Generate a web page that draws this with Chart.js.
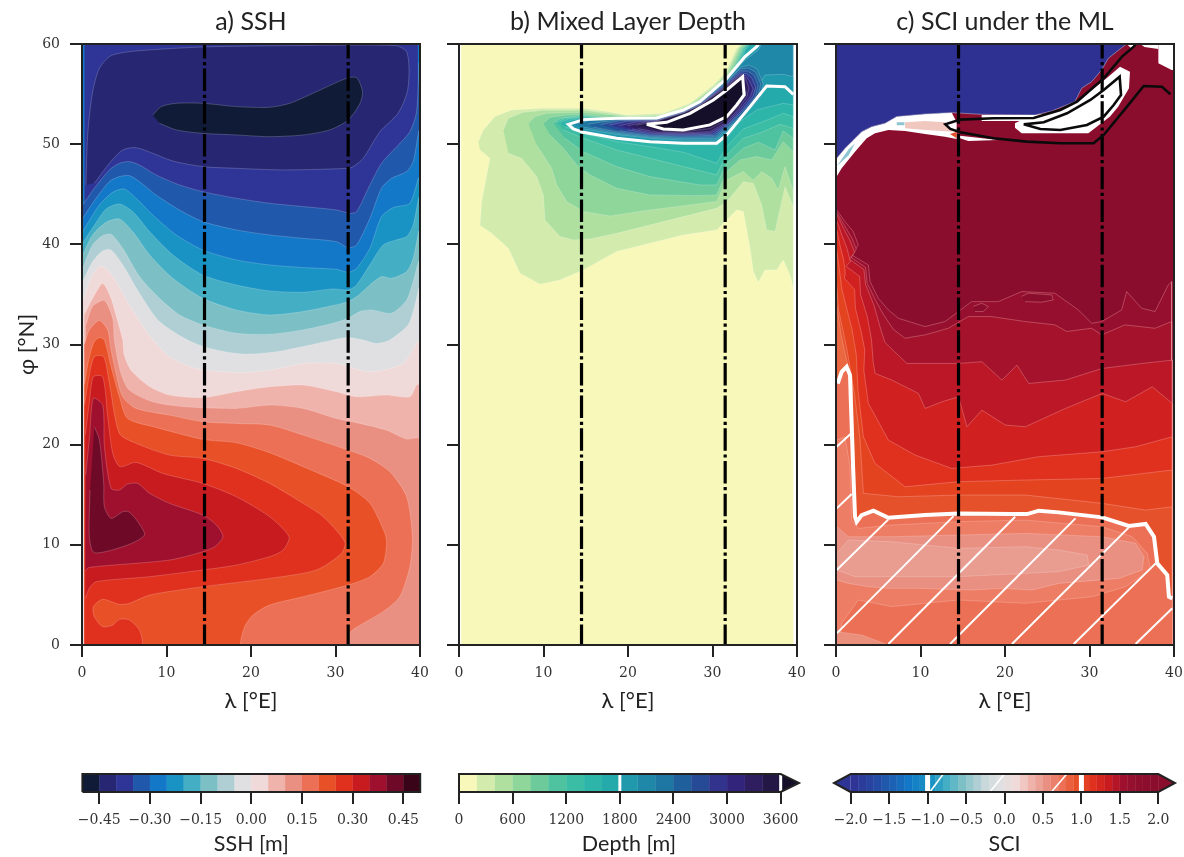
<!DOCTYPE html>
<html>
<head>
<meta charset="utf-8">
<title>SSH, MLD and SCI</title>
<script src="https://cdn.jsdelivr.net/npm/chart.js@4"></script>
<style>
  html, body { margin: 0; padding: 0; background: #fff; overflow: hidden; }
  canvas { position: absolute; }
</style>
</head>
<body>
<canvas id="mapSsh" width="430" height="720" style="left:0px;top:0px"></canvas>
<canvas id="mapMld" width="430" height="720" style="left:377px;top:0px"></canvas>
<canvas id="mapSci" width="430" height="720" style="left:754px;top:0px"></canvas>
<canvas id="barSsh" width="400" height="97" style="left:47px;top:760px"></canvas>
<canvas id="barMld" width="385" height="97" style="left:424px;top:760px"></canvas>
<canvas id="barSci" width="385" height="97" style="left:799px;top:760px"></canvas>
<script>
// ---- axes
const lonTicks = [0, 10, 20, 30, 40];
const latTicks = [0, 10, 20, 30, 40, 50, 60];
const sectionLons = [14.5, 31.5];

// ---- colour bars
const sshLevels = [-0.5, -0.45, -0.4, -0.35, -0.3, -0.25, -0.2, -0.15, -0.1, -0.05, 0, 0.05, 0.1, 0.15, 0.2, 0.25, 0.3, 0.35, 0.4, 0.45, 0.5];
const sshTicks = [-0.45, -0.3, -0.15, 0, 0.15, 0.3, 0.45];
const sshColors = ['#101b38', '#262672', '#2e3596', '#2058ab', '#1478c8', '#1893c3', '#44aec4', '#7cc0c6', '#b0cfd4', '#e0e0e2',
  '#f0dad9', '#efb3ac', '#ea9082', '#ec7055', '#e85028', '#e0301e', '#c81b20', '#9f102e', '#6e0a28', '#3a0418'];

const mldLevels = [0, 200, 400, 600, 800, 1000, 1200, 1400, 1600, 1800, 2000, 2200, 2400, 2600, 2800, 3000, 3200, 3400, 3600];
const mldTicks = [0, 600, 1200, 1800, 2400, 3000, 3600];
const mldColors = ['#f8f8bb', '#d3ecae', '#afe0a0', '#8fd69b', '#6dcb9b', '#4fc29f', '#3abda4', '#2cb5a8', '#24aaaa', '#2199ac',
  '#1f88a8', '#1e77a2', '#1f5f9c', '#274a97', '#31338c', '#33247b', '#2e1e5f', '#231745', '#160f2a'];

const sciLevels = [-2, -1.9, -1.8, -1.7, -1.6, -1.5, -1.4, -1.3, -1.2, -1.1, -1, -0.9, -0.8, -0.7, -0.6, -0.5, -0.4, -0.3, -0.2, -0.1, 0,
  0.1, 0.2, 0.3, 0.4, 0.5, 0.6, 0.7, 0.8, 0.9, 1, 1.1, 1.2, 1.3, 1.4, 1.5, 1.6, 1.7, 1.8, 1.9, 2];
const sciTicks = [-2, -1.5, -1, -0.5, 0, 0.5, 1, 1.5, 2];
const sciColors = ['#2e3596', '#2b3c9a', '#2843a0', '#244ba5', '#2058ab', '#1c62b4', '#186cbd', '#1478c8', '#1582c6', '#178bc4',
  '#1893c3', '#2ea0c4', '#44aec4', '#60b7c5', '#7cc0c6', '#96c8cd', '#b0cfd4', '#c8d8db', '#d6dddf', '#e0e0e2',
  '#e8dddd', '#f0dad9', '#f0c7c3', '#efb3ac', '#eca297', '#ea9082', '#eb806c', '#ec7055', '#ea603e', '#e85028',
  '#e44023', '#e0301e', '#d4261f', '#c81b20', '#b41628', '#9f102e', '#95102e', '#8f0e2e', '#8c0d2e', '#8b0d2e'];

// ---- a) SSH, contours as [lon, lat]
const sshOuter = [[0.3, 0], [39.75, 0], [39.75, 59.9], [0.3, 59.9]];
const sshRing = [[0.47, 45.93], [0.67, 50.92], [1.26, 55.24], [2.06, 57.57], [3.44, 58.84], [6.4, 59.3], [14.3, 59.7], [24.2, 59.83], [37.2, 59.83], [38.4, 59.23], [38.7, 57.57], [38.5, 55.24], [37.4, 53.08], [35.26, 51.25], [33.28, 48.59], [32.1, 47.76], [31.5, 47.59], [23.8, 47.43], [18.26, 47.59], [14.3, 47.76], [10.75, 48.32], [8.38, 49.09], [6.4, 49.65], [4.82, 49.42], [3.24, 48.09], [1.46, 46.09]];
const sshCore = [[8.38, 52.91], [9.37, 53.75], [11.15, 54.08], [14.3, 54.08], [18.26, 53.75], [22.2, 53.68], [24.6, 54.08], [27.75, 55.24], [31.3, 56.57], [32.5, 56.64], [33.2, 55.24], [32.9, 54.08], [31.5, 52.41], [29.3, 51.42], [26.2, 50.92], [22.2, 50.75], [18.26, 50.92], [14.3, 51.08], [11.15, 51.42], [9.17, 52.08]];
// these run west to east, everything south of them takes the next colour
const sshFronts = [
  [[0.08, 43.93], [1.46, 45.6], [3.24, 47.43], [4.43, 48.09], [5.6, 48.26], [6.8, 47.92], [8.77, 46.93], [11.54, 45.93], [14.3, 45.26], [18.26, 44.6], [22.2, 44.1], [26.17, 43.77], [30.1, 43.43], [31.7, 43.1], [32.5, 43.26], [34.07, 45.93], [35.45, 48.09], [37.43, 49.92], [38.8, 51.25], [39.6, 53.25], [39.9, 58]],
  [[0.08, 42.6], [1.66, 44.6], [3.24, 46.26], [4.43, 46.76], [5.6, 46.86], [6.8, 46.26], [8.77, 44.93], [11.54, 43.43], [14.3, 42.27], [18.26, 41.44], [22.2, 40.94], [26.17, 40.6], [30.1, 40.27], [31.5, 39.67], [32.5, 39.94], [34.07, 42.6], [35.45, 45.6], [36.64, 46.59], [38.42, 47.26], [39.2, 48.26], [39.9, 51.25]],
  [[0.08, 41.27], [2.06, 43.93], [3.64, 45.2], [5, 45.53], [6.4, 44.6], [8.38, 42.93], [11.15, 40.94], [14.3, 39.44], [18.26, 38.44], [22.2, 37.94], [26.17, 37.68], [30.1, 37.51], [31.5, 37.21], [32.5, 37.61], [34.07, 39.61], [35.45, 42.77], [36.84, 43.67], [38.8, 44.1], [39.9, 46.6]],
  [[0.08, 40.13], [1.46, 41.9], [2.85, 43.53], [4.43, 44.03], [6, 43.27], [8, 41.27], [10.75, 38.94], [14.3, 36.94], [18.26, 35.94], [22.2, 35.35], [26.17, 35.22], [29.7, 35.55], [31.5, 35.45], [32.5, 35.95], [34.07, 37.95], [35.65, 39.94], [37.2, 40.44], [38.42, 40.77], [39.2, 41.94], [39.9, 44.6]],
  [[0.08, 38.95], [1.26, 40.94], [2.85, 42.2], [4.43, 42.53], [6, 41.27], [8, 38.94], [10.75, 36.61], [14.3, 34.61], [18.26, 33.45], [22.2, 32.95], [26.17, 33.29], [29.7, 33.89], [31.5, 34.28], [32.5, 34.78], [34.07, 35.95], [35.45, 36.78], [36.64, 36.61], [38.42, 37.28], [39.2, 38.6], [39.9, 41.27]],
  [[0.08, 37.6], [1.26, 39.94], [2.45, 40.87], [3.44, 41], [4.82, 39.6], [6.8, 36.78], [9.17, 34.61], [11.54, 32.95], [14.3, 31.95], [18.26, 31.12], [22.2, 31.02], [26.17, 31.46], [29.7, 32.12], [31.5, 32.62], [32.9, 33.29], [34.27, 33.45], [36.64, 33.12], [38.42, 34.45], [39.2, 36.28], [39.9, 38.28]],
  [[0.08, 36.28], [1.26, 38.28], [2.45, 39.34], [3.44, 39.44], [4.82, 37.95], [6.8, 35.12], [9.17, 32.29], [12.5, 30.44], [15.1, 29.6], [19.05, 29.04], [23, 29.27], [26.96, 29.94], [29.7, 30.46], [31.5, 30.7], [33.3, 30.44], [34.86, 30.1], [36.4, 30.44], [38.6, 31.96], [39.4, 33.95], [39.9, 35.6]],
  [[0.08, 34.3], [1.07, 36.6], [2.06, 37.8], [2.85, 37.6], [4.03, 36.3], [5.6, 33.95], [7.4, 31.6], [8.4, 30.44], [10.36, 28.77], [13.5, 27.6], [18.26, 27.2], [22.2, 27.44], [26.17, 28.1], [30.1, 28.1], [34.07, 27.28], [38, 28.1], [39.9, 30.27]],
  [[0.28, 33], [1.26, 34.6], [2.45, 36.1], [3.44, 34.6], [4.23, 32.3], [4.82, 30.44], [5, 28.94], [5.8, 27.44], [8, 25.8], [10.36, 24.95], [14.3, 24.7], [18.26, 25.28], [22.2, 25.78], [26.17, 25.95], [30.1, 25.28], [32.5, 24.78], [36, 24.95], [38.8, 24.78], [39.6, 25.95], [39.9, 26]],
  [[0.47, 31.96], [1.26, 33.8], [2.65, 34.4], [3.64, 32.6], [3.83, 30.44], [4.62, 27.1], [5.6, 25.45], [8.38, 24.28], [12.33, 23.78], [18.26, 23.62], [22.2, 23.95], [26.17, 23.62], [30.1, 22.62], [32.9, 22.12], [36, 21.46], [38.42, 20.56], [39.9, 20.56]],
  [[0.28, 30], [0.87, 31.46], [2.06, 32.4], [3.04, 31.46], [3.44, 29.44], [4.03, 27.11], [4.82, 24.78], [6.4, 23.62], [10.36, 22.95], [14.3, 22.29], [18.26, 22.12], [22.2, 21.96], [26.17, 20.96], [31.5, 19.46], [34.07, 18.63], [36.44, 17.3], [38.42, 14.8], [39.1, 10.81], [38.8, 7.82], [37.6, 4.82], [35.65, 3.33], [33.3, 2.16], [31.6, 1]],
  [[0.3, 26], [0.8, 28.5], [1.4, 30.2], [2.06, 30.7], [2.65, 30.44], [3.44, 27.78], [4.43, 24.78], [5.4, 22.62], [8.77, 21.72], [14.3, 20.53], [18.26, 20.19], [22.2, 19.2], [26.17, 17.8], [31.5, 15.8], [34.07, 14.14], [35.85, 11.14], [36.05, 10.15], [35.65, 8.15], [34.07, 6.82], [31.5, 5.99], [26.17, 4.82], [22.2, 3.99], [20.24, 2.99], [19.25, 1.83], [18.74, 0]],
  [[0.3, 24], [0.9, 27.1], [1.46, 28.78], [2.57, 28.78], [3.24, 26.11], [4.43, 21.12], [6.4, 20.13], [10.36, 18.96], [14.3, 18.63], [18.26, 17.63], [22.2, 16.13], [26.17, 14.14], [28.54, 12.81], [31.1, 10.31], [30.71, 9.15], [27.75, 7.49], [22.2, 6.65], [14.3, 5.82], [8, 4.99], [5.6, 4.16], [4.43, 4.06], [2.45, 4.56], [1.34, 3.83], [1.46, 2.83], [2.45, 1.83], [3.64, 2], [4.43, 2.56], [5.6, 2.5], [6.8, 1.5], [7.2, 0]]
];
const sshTongues = [
  [[0.4, 21], [0.9, 24.4], [1.34, 26.78], [2.45, 26.78], [3.04, 22.79], [3.64, 19.13], [4.5, 17.8], [6.4, 18.23], [9.57, 17.13], [14.3, 16.13], [18.26, 14.8], [22.2, 12.81], [24.5, 10.81], [23.8, 9.48], [22.2, 8.82], [18.26, 7.98], [14.3, 7.49], [8, 6.82], [1.66, 6.32], [0.87, 5.66], [0.4, 4.66]],
  [[0.45, 17], [0.9, 20.8], [1.34, 24.62], [2.45, 23.95], [2.65, 19.79], [3.44, 15.64], [4.43, 15.47], [5.4, 16.07], [6.6, 16.13], [8, 15.14], [10.36, 14.14], [14.3, 12.97], [15.9, 11.98], [16.68, 10.81], [15.7, 9.81], [14.3, 9.31], [10.36, 8.48], [0.87, 7.75], [0.4, 7.42]],
  [[1.46, 21.79], [2.06, 20.46], [2.57, 16.13], [2.65, 13.8], [3.44, 12.64], [4.82, 13.3], [5.53, 13.3], [6.6, 12.31], [7.39, 10.98], [5.4, 9.98], [1.46, 9.21], [0.87, 10.81], [0.95, 15.47]]
];

// ---- b) mixed layer depth
const mldCover = [[0.25, 0], [39.57, 0], [39.57, 60], [0.25, 60]];
const mld1800 = [[35.46, 60], [35.23, 59.73], [33.85, 58.74], [31.68, 56.57], [28.52, 54.25], [26.55, 53.41], [23.39, 52.61], [18.66, 52.58], [14.71, 52.45], [12.94, 51.98], [13.53, 51.52], [14.71, 51.18], [18.66, 50.59], [22.6, 50.25], [26.55, 50.09], [30.49, 50.09], [31.68, 50.92], [34.44, 53.75], [36.41, 55.81], [38.58, 55.74], [39.57, 54.98]];
const mld3600 = [[22.21, 51.98], [24.58, 52.18], [27.34, 53.08], [30.1, 54.41], [31.68, 55.41], [33.57, 56.74], [33.73, 54.91], [32.86, 53.91], [31.68, 52.75], [29.7, 51.92], [26.55, 51.42], [24.18, 51.52], [22.21, 51.98]];
const mldBands = [
  [[2.29, 50.25], [2.88, 51.42], [4.26, 52.75], [6.23, 53.41], [9.98, 53.58], [14.71, 53.58], [17.47, 53.25], [19.84, 52.91], [24.18, 53.08], [27.34, 54.08], [30.1, 55.91], [31.48, 57.07], [32.86, 59.57], [33.45, 60], [39.57, 60], [39.57, 35.6], [39.17, 36.95], [38.38, 38.44], [37.59, 37.44], [36.21, 37.44], [35.42, 36.21], [34.83, 37.28], [34.44, 39.61], [33.65, 43.27], [32.86, 43.43], [30.49, 41.44], [26.55, 40.94], [22.6, 40.11], [18.66, 39.28], [14.71, 37.45], [11.95, 36.45], [9.59, 36.01], [7.22, 37.11], [5.84, 39.61], [3.87, 41.1], [2.49, 41.87], [2.68, 44.27], [3.67, 48.59], [2.49, 49.42]],
  [[5.25, 51.42], [5.84, 52.58], [7.61, 53.18], [9.98, 53.38], [14.71, 53.38], [17.87, 53.05], [20.24, 52.78], [24.18, 52.91], [27.34, 53.91], [30.3, 55.84], [31.68, 57.07], [33.06, 59.57], [33.57, 60], [39.57, 60], [39.57, 43.77], [38.58, 45.76], [37.4, 41.27], [36.41, 41.44], [35.82, 43.93], [34.83, 46.09], [33.65, 46.26], [31.68, 44.27], [30.49, 43.6], [26.55, 42.77], [22.6, 41.94], [18.66, 41.1], [15.5, 40.54], [13.53, 40.44], [11.95, 40.77], [10.18, 42.44], [9.98, 44.93], [9.19, 46.76], [7.42, 48.59], [5.84, 49.09]],
  [[8.2, 52.08], [8.99, 52.75], [10.37, 53.08], [14.71, 53.18], [18.26, 52.88], [20.63, 52.68], [24.18, 52.81], [27.53, 53.85], [30.49, 55.81], [31.87, 57.07], [33.25, 59.57], [33.77, 60], [39.57, 60], [39.57, 45.26], [38.58, 47.76], [37.79, 45.43], [37, 46.59], [35.82, 47.26], [34.83, 46.4], [33.65, 47.26], [31.68, 46.43], [30.49, 44.27], [27.34, 43.93], [22.6, 43.43], [17.87, 42.83], [14.71, 43.27], [12.74, 44.27], [11.56, 45.93], [10.97, 47.59], [9.19, 49.92]],
  [[9.98, 52.08], [10.77, 52.68], [12.74, 52.91], [14.71, 52.98], [18.66, 52.58], [21.03, 52.51], [24.18, 52.65], [27.73, 53.71], [30.69, 55.68], [32.07, 57.01], [33.45, 59.57], [33.96, 60], [39.57, 60], [39.57, 49.25], [38.38, 50.25], [37, 48.42], [35.23, 48.76], [33.25, 48.42], [31.68, 47.26], [30.49, 44.93], [28.13, 44.86], [22.6, 44.93], [18.66, 45.6], [15.5, 46.93], [13.92, 47.93], [12.35, 49.59], [10.77, 50.92]],
  [[11.16, 52.08], [11.95, 52.58], [14.71, 52.88], [18.66, 52.48], [21.22, 52.38], [24.18, 52.55], [27.93, 53.61], [31, 55.58], [32.19, 56.94], [33.57, 59.5], [34.04, 60], [39.57, 60], [39.57, 50.59], [38.38, 51.32], [37.4, 49.42], [35.42, 50.19], [33.65, 49.59], [31.68, 48.09], [30.49, 45.93], [28.52, 45.93], [22.6, 46.76], [18.66, 47.76], [14.71, 49.25], [12.54, 50.59]],
  [[11.56, 52.18], [12.54, 52.58], [14.71, 52.78], [18.66, 52.42], [21.42, 52.31], [24.18, 52.48], [28.05, 53.51], [31, 55.48], [32.35, 56.87], [33.65, 59.47], [34.16, 60], [39.57, 60], [39.57, 51.58], [37.99, 51.98], [35.82, 51.18], [33.65, 50.59], [31.68, 48.92], [30.49, 46.93], [26.55, 47.76], [22.6, 48.59], [18.66, 49.42], [14.71, 50.59], [12.35, 51.42]],
  [[11.95, 52.18], [12.94, 52.51], [14.71, 52.68], [18.66, 52.32], [21.62, 52.22], [24.18, 52.38], [28.17, 53.41], [31.12, 55.38], [32.5, 56.81], [33.77, 59.4], [34.28, 60], [39.57, 60], [39.57, 52.75], [38.38, 53.08], [36.21, 52.32], [33.65, 51.52], [31.68, 49.75], [30.49, 48.09], [26.55, 49.19], [22.6, 49.75], [18.66, 50.25], [14.71, 51.08], [12.54, 51.75]],
  [[12.54, 52.18], [13.33, 52.41], [14.71, 52.58], [18.66, 52.25], [21.81, 52.15], [24.18, 52.32], [28.28, 53.35], [31.24, 55.31], [32.66, 56.77], [33.88, 59.37], [34.44, 60], [39.57, 60], [39.57, 53.91], [38.38, 54.08], [35.23, 53.41], [33.25, 52.25], [31.68, 50.59], [30.49, 49.92], [26.55, 50.02], [22.6, 50.32], [18.66, 50.65], [14.71, 51.32], [13.13, 51.85]],
  [...mld1800, [39.57, 60]],
  [[13.53, 51.98], [14.71, 52.32], [18.66, 52.45], [23.39, 52.52], [26.55, 53.25], [28.52, 54.08], [31.68, 56.41], [33.85, 58.4], [35.42, 59.4], [35.82, 60], [39.57, 60], [39.57, 56.74], [38.38, 56.97], [36.21, 56.91], [34.24, 54.08], [31.68, 51.25], [30.3, 50.42], [26.55, 50.42], [22.6, 50.59], [18.66, 50.98], [14.71, 51.52]],
  [[14, 52], [15.5, 52.4], [18.66, 52.5], [23.4, 52.55], [26.55, 53.3], [28.5, 54.1], [31.68, 56.3], [33.4, 57.7], [34.3, 57.9], [35.3, 57.5], [36, 56], [35.7, 54.7], [33.9, 53], [31.6, 51.45], [30.4, 50.6], [26.55, 50.55], [22.6, 50.7], [18.66, 51.1], [14.71, 51.7]],
  [[15.3, 52], [18.66, 52.42], [23.4, 52.5], [26.55, 53.25], [28.5, 54.05], [31.68, 56.2], [33.3, 57.5], [34.2, 57.6], [35.1, 57.2], [35.7, 56], [35.4, 54.8], [33.7, 53.1], [31.6, 51.6], [30.3, 50.75], [26.55, 50.68], [22.6, 50.8], [18.66, 51.25], [15.9, 51.7]],
  [[16.8, 51.95], [19, 52.35], [23.4, 52.45], [26.55, 53.2], [28.5, 54], [31.68, 56.1], [33.3, 57.3], [34.1, 57.3], [34.9, 56.9], [35.4, 55.9], [35.1, 54.8], [33.5, 53.2], [31.6, 51.75], [30.2, 50.88], [26.55, 50.8], [22.6, 50.9], [19, 51.35]],
  [[17.8, 51.9], [19.8, 52.28], [23.4, 52.4], [26.55, 53.15], [28.5, 53.95], [31.68, 56], [33.3, 57.1], [34, 57.05], [34.65, 56.6], [35.1, 55.7], [34.8, 54.8], [33.4, 53.3], [31.6, 51.88], [30, 51], [26.55, 50.92], [22.6, 51.02], [20, 51.45]],
  [[19, 51.85], [21, 52.22], [23.4, 52.35], [26.55, 53.12], [28.5, 53.9], [31.68, 55.9], [33.3, 56.95], [33.9, 56.85], [34.4, 56.3], [34.8, 55.5], [34.5, 54.8], [33.2, 53.4], [31.6, 52], [29.8, 51.12], [26.55, 51.02], [23, 51.12], [20.5, 51.5]],
  [[20, 51.85], [22, 52.18], [23.8, 52.3], [26.55, 53.1], [28.5, 53.88], [31.68, 55.8], [33.4, 56.9], [33.9, 56.6], [34.3, 55.6], [34.1, 54.8], [33.1, 53.55], [31.6, 52.15], [29.7, 51.25], [26.55, 51.12], [23.5, 51.2], [21.2, 51.55]],
  [[21, 51.9], [23, 52.2], [26.55, 53.1], [28.5, 53.85], [31.68, 55.7], [33.5, 56.85], [33.95, 55.3], [33.9, 54.85], [33, 53.75], [31.6, 52.4], [29.7, 51.55], [26.55, 51.25], [24, 51.35]],
  mld3600
];

// ---- c) SCI under the mixed layer
const sciFronts = [
  [[0.08, 43.43], [1.07, 42.27], [2.05, 41.27], [2.64, 39.94], [1.85, 38.94], [3.83, 37.94], [4.03, 36.28], [5, 34.62], [6.2, 33.45], [7.38, 32.62], [10.53, 31.79], [12.9, 32.29], [16.05, 34.28], [19.2, 34.28], [21.97, 35.28], [25.9, 35.12], [28.68, 33.45], [30.26, 32.12], [31.44, 32.29], [33.8, 33.45], [34.4, 35.28], [36.17, 33.62], [37.75, 33.29], [39.33, 35.95], [39.72, 36.28]],
  [[0.08, 43.2], [1, 41.9], [1.9, 40.6], [2.4, 39.5], [1.8, 38.7], [3.5, 37.7], [3.7, 36.1], [4.7, 34.4], [5.6, 33], [6.8, 31.5], [8.17, 30.63], [10.53, 30.96], [13.29, 31.62], [15.66, 32.79], [18.42, 32.79], [22.37, 32.29], [25.92, 31.96], [27.3, 31.3], [30.26, 31.62], [31.44, 30.96], [34.2, 31.96], [37.75, 31.62], [39.72, 32.29]],
  [[0.08, 43], [0.9, 41.6], [1.7, 40.3], [2.2, 39.2], [1.6, 38.5], [3.3, 37.5], [3.5, 36], [4.5, 33.9], [5.2, 31.8], [5.8, 30.2], [8.38, 28.11], [14.5, 28.11], [17.27, 28.28], [19.64, 26.45], [21.42, 27.94], [22.8, 26.11], [27.15, 26.45], [31.5, 27.61], [36.25, 28.11], [39.8, 28.44]],
  [[0.08, 42.4], [0.7, 40.9], [1.3, 39.6], [1.7, 38.3], [1.2, 37.8], [2.8, 36.8], [2.9, 35], [3.7, 32.8], [4.2, 30.5], [4.4, 28.3], [4.62, 27.11], [6.6, 26.45], [9.76, 25.12], [10.55, 23.62], [12.53, 24.28], [14.5, 24.78], [15.5, 21.79], [17.27, 23.45], [20.04, 21.96], [22.4, 21.79], [27.15, 23.62], [31.5, 25.12], [34.27, 24.28], [37.43, 25.78], [39.8, 24.12]],
  [[0.08, 41.5], [0.5, 39.8], [0.9, 38.5], [1.1, 37.2], [1, 36.6], [2.2, 35.5], [2.3, 33.6], [3, 31.2], [3.4, 29.5], [3.3, 27.4], [3.83, 24.12], [6.2, 20.46], [9.37, 18.96], [13.7, 17.63], [18.46, 17.96], [24, 18.8], [31.5, 19.29], [35.45, 19.79], [39.8, 20.79]],
  [[0.08, 39.5], [0.4, 37.5], [0.7, 35.5], [1.3, 33.5], [1.9, 31.5], [2.4, 29], [2.6, 25.45], [3.24, 20.79], [4.62, 18.13], [8.18, 15.8], [14.5, 16.3], [22.4, 16.47], [31.5, 16.63], [39.8, 17.47]],
  [[0.08, 36], [0.3, 33.5], [0.8, 31.5], [1.3, 29.5], [1.8, 27], [2.2, 25], [2.85, 20.46], [3.24, 15.14], [7.39, 14.8], [14.5, 14.97], [22.4, 14.97], [31.5, 14.14], [36.64, 13.47], [39.8, 13.8]],
  [[0.08, 34], [0.6, 31], [1.4, 27.9], [1.9, 26], [2.1, 20], [2.35, 12.5]]
];
const sciSpots = [
  [[21.97, 34.8], [22.76, 35.12], [25.52, 34.95], [25.72, 34.45], [24.34, 34.22], [22.37, 34.28]],
  [[16.25, 33.8], [17.24, 34.12], [18.03, 33.8], [17.43, 33.29], [16.45, 33.29]]
];
const sci1 = [[0.2, 26.1], [0.67, 27.28], [1.26, 27.78], [1.66, 26.95], [1.78, 23.79], [2.05, 17.13], [2.25, 12.81], [2.45, 12.31], [3.04, 12.97], [4.43, 13.41], [6.2, 12.71], [10.55, 12.97], [14.5, 13.14], [20.83, 13.07], [22.6, 13.07], [24, 13.41], [26.36, 13.24], [31.5, 12.74], [34.66, 11.88], [36.64, 12.08], [37.63, 10.81], [38.02, 8.15], [39.2, 6.99], [39.4, 4.82], [39.8, 4.66]];
const sciPatches = [
  [[0.08, 20.46], [1.07, 20.79], [1.66, 17.8], [1.86, 12.47], [2.65, 11.64], [6.6, 11.98], [14.5, 12.31], [22.4, 12.47], [31.5, 11.81], [35.06, 10.81], [36.84, 9.15], [37.23, 7.49], [34.27, 5.82], [30.32, 4.82], [26.36, 4.49], [22.4, 4.16], [14.5, 4.49], [6.6, 3.83], [2.65, 4.49], [0.67, 2.16], [0.47, 0.5], [0.08, 0.5]],
  [[0.08, 11.81], [1.46, 10.81], [6.6, 10.81], [14.5, 10.98], [22.4, 11.14], [31.5, 10.81], [35.45, 10.15], [36.44, 8.82], [36.25, 7.49], [33.48, 6.65], [26.36, 6.15], [23.2, 5.49], [19.64, 5.66], [16.09, 5.49], [9.76, 5.66], [6.2, 5.66], [3.83, 5.82], [1.46, 6.15], [0.08, 6.49]],
  [[0.08, 9.15], [1.46, 10.48], [6.6, 10.31], [14.5, 9.65], [22.4, 9.81], [26.36, 9.48], [29.72, 8.98], [29.92, 7.98], [26.36, 7.32], [18.46, 6.99], [14.5, 6.82], [6.6, 6.82], [2.25, 6.82], [0.08, 7.49]],
  [[0.08, 1.33], [3.04, 1], [6.2, 0], [0.08, 0]]
];
const sciHatch = [
  [[0.08, 7.49], [6.2, 12.54]], [[0.08, 1.16], [13.91, 12.87]], [[6.2, 0.1], [21.2, 12.81]], [[13.5, 0.1], [28.34, 12.64]],
  [[20.83, 0.1], [34.66, 11.74]], [[28.14, 0.1], [37.83, 8.15]], [[35.45, 0.1], [39.8, 3.66]], [[0.08, 19.79], [1.78, 21.12]], [[0.08, 13.64], [1.86, 15.07]]
];
const sciBlue = [[0.08, 48.59], [1.07, 49.59], [1.85, 50.25], [3.04, 51.25], [4.22, 51.75], [5.8, 52.08], [7.18, 52.75], [10.53, 53.01], [13.69, 53.15], [17.24, 52.98], [23.55, 52.91], [25.52, 53.31], [28.27, 54.25], [29.07, 55.58], [30.26, 56.24], [31.44, 57.41], [32.23, 58.57], [33.8, 59.63], [34.4, 60], [0.08, 60]];
const sciRidge = [[0.08, 48.59], [1.07, 49.59], [1.85, 50.25], [3.04, 51.25], [4.22, 51.75], [5.8, 52.08], [7.18, 52.75], [10.53, 53.01], [13.69, 53.15], [14.28, 52.18], [14.28, 50.52], [12.9, 50.75], [10.53, 51.02], [8.17, 51.32], [6.2, 51.42], [4.62, 51.08], [3.63, 50.59], [2.25, 49.25], [0.67, 47.59], [0.08, 46.76]];
const sciBlanks = [
  [[17.24, 52.91], [23.55, 52.91], [25.92, 53.18], [27.1, 53.51], [23.94, 52.32], [17.24, 52.32]],
  [[14.67, 50.85], [19.2, 50.42], [15.66, 50.32], [14.67, 50.58]],
  [[21.18, 52.08], [22.37, 52.58], [25.52, 52.98], [27.89, 53.91], [30.26, 55.41], [32.23, 56.74], [33.61, 57.74], [34.79, 57.24], [34.67, 55.58], [33.41, 53.75], [32.43, 52.75], [29.86, 51.08], [21.97, 51.08], [21.18, 51.65]],
  [[38.15, 60], [38.15, 58.07], [39.72, 57.4], [40, 57.4], [40, 60]],
  [[36, 60], [38.15, 60], [38.15, 59.5], [36.5, 59.7]],
  [[34.4, 60], [35.5, 60], [34.9, 59.6]]
];
const sciPink = [[8.17, 52.18], [10.53, 52.32], [12.9, 52.18], [13.89, 51.25], [10.53, 51.42], [8.17, 51.58]];
const sciEmber = [[13.49, 51.02], [14.28, 51.25], [14.28, 50.59]];
const sciTeal = [[[7.18, 52.2], [8.1, 52.2], [8.1, 51.9], [7.2, 51.9]], [[0.08, 47.8], [1.5, 49.5], [2.25, 50.1], [1.5, 48.9]]];

// colour bar marks that sit on top of the bands
const sciBarContours = [-1, 1];
const sciBarHatch = [[[-0.97, 0], [-0.796, 1]], [[-0.19, 0], [0, 1]], [[0.61, 0], [0.81, 1]]];
const mldBarContours = [1800, 3600];

// ---- helpers
const INK = '#222222';
const SANS = 'Lato, "Open Sans", sans-serif';
const SERIF = '"DejaVu Serif", serif';

const toXY = pts => pts.map(p => ({ x: p[0], y: p[1] }));
// drop the ends well below the axis so the curve bends stay out of sight
const closeSouth = c => [...c, [c[c.length - 1][0], -30], [c[0][0], -30]];
const boxOf = (x0, x1, y0, y1) => [[x0, y0], [x1, y0], [x1, y1], [x0, y1]];

function area(pts, color, edge, tension) {
  return {
    type: 'scatter', data: toXY(pts), showLine: true, fill: 'shape', backgroundColor: color,
    borderColor: edge || 'rgba(255,255,255,0.28)', borderWidth: edge === null ? 0 : 0.7,
    pointRadius: 0, tension: tension || 0
  };
}

function line(pts, color, width, dash, offset) {
  return {
    type: 'scatter', data: toXY(pts), showLine: true, fill: false, borderColor: color, borderWidth: width,
    borderDash: dash || [], borderDashOffset: offset || 0, pointRadius: 0, tension: 0, clip: false
  };
}

function sections() {
  return sectionLons.map(lon => line([[lon, 0], [lon, 60]], '#000000', 3.2, [22.5, 3.4, 3.2, 3.6], 2));
}

function frame() {
  return line([[0, 0], [40, 0], [40, 60], [0, 60], [0, 0]], INK, 2);
}

function drawMap(id, title, layers, showLat) {
  new Chart(document.getElementById(id), {
    type: 'scatter',
    // chart.js paints the first dataset last, the lists here are bottom to top
    data: { datasets: layers.slice().reverse() },
    options: {
      responsive: false,
      animation: false,
      layout: { padding: { right: 10 } },
      plugins: {
        legend: { display: false },
        tooltip: { enabled: false },
        title: {
          display: true, text: title, color: INK, fullSize: false,
          font: { family: SANS, size: 25, weight: 'normal', lineHeight: 1.2 },
          padding: { top: 7, bottom: 7 }
        }
      },
      scales: {
        x: {
          type: 'linear', min: 0, max: 40,
          afterFit: s => { s.height = 75; s.paddingLeft = 0; s.paddingRight = 0; },
          afterBuildTicks: s => { s.ticks = lonTicks.map(v => ({ value: v })); },
          border: { display: false },
          grid: { drawOnChartArea: false, color: INK, lineWidth: 2, tickLength: 12 },
          ticks: { color: '#333', font: { family: SERIF, size: 14 }, padding: 8, maxRotation: 0 },
          title: { display: true, text: 'λ [°E]', color: INK, font: { family: SANS, size: 22 }, padding: { top: 0, bottom: 6 } }
        },
        y: {
          type: 'linear', min: 0, max: 60,
          afterFit: s => { s.width = 82; s.paddingTop = 0; s.paddingBottom = 0; },
          afterBuildTicks: s => { s.ticks = latTicks.map(v => ({ value: v })); },
          border: { display: false },
          grid: { drawOnChartArea: false, color: INK, lineWidth: 2, tickLength: 12 },
          ticks: { color: '#333', font: { family: SERIF, size: 14 }, padding: 10, callback: v => showLat ? v : '' },
          title: { display: showLat, text: 'φ [°N]', color: INK, font: { family: SANS, size: 22 }, padding: { top: 14, bottom: 0 } }
        }
      }
    }
  });
}

function drawBar(id, label, levels, colors, ticks, min, max, extra, padLeft, padRight, fmt) {
  const last = levels.length - 1;
  const first = levels[0];
  const end = levels[last];
  const layers = [];
  colors.slice(0, last).forEach((c, i) => layers.push(area(boxOf(levels[i], levels[i + 1], 0, 1), c, c)));
  layers.push(...extra.fills);
  const outline = [[first, 0], [end, 0]];
  if (max > end) outline.push([max, 0.5]);
  outline.push([end, 1], [first, 1]);
  if (min < first) outline.push([min, 0.5]);
  outline.push([first, 0]);
  layers.push(...extra.marks, line(outline, INK, 2));

  new Chart(document.getElementById(id), {
    type: 'scatter',
    data: { datasets: layers.reverse() },
    options: {
      responsive: false,
      animation: false,
      layout: { padding: { left: padLeft, right: padRight, top: 14 } },
      plugins: { legend: { display: false }, tooltip: { enabled: false } },
      scales: {
        x: {
          type: 'linear', min: min, max: max,
          afterFit: s => { s.height = 65; },
          afterBuildTicks: s => { s.ticks = ticks.map(v => ({ value: v })); },
          border: { display: false },
          grid: { drawOnChartArea: false, color: INK, lineWidth: 2, tickLength: 12 },
          ticks: { color: '#333', font: { family: SERIF, size: 14 }, padding: 8, maxRotation: 0, autoSkip: false, callback: fmt },
          title: { display: true, text: label, color: INK, font: { family: SANS, size: 21.5 }, padding: { top: 0, bottom: 0 } }
        },
        y: { type: 'linear', min: 0, max: 1, display: false }
      }
    }
  });
}

// ---- panels
const SMOOTH = 0.25; // the SSH contours are smooth, the others stay as traced
const sshLayers = [area(boxOf(0, 40, 0, 60), sshColors[4], null), area(sshOuter, sshColors[2], null),
  area(sshRing, sshColors[1], undefined, SMOOTH), area(sshCore, sshColors[0], undefined, SMOOTH)];
sshFronts.forEach((c, i) => sshLayers.push(area(closeSouth(c), sshColors[i + 3], undefined, SMOOTH)));
sshTongues.forEach((c, i) => sshLayers.push(area(c, sshColors[i + 16], undefined, SMOOTH)));
drawMap('mapSsh', 'a) SSH', [...sshLayers, ...sections(), frame()], true);

const mldLayers = [area(mldCover, mldColors[0], null)];
mldBands.forEach((c, i) => mldLayers.push(area(c, mldColors[i + 1])));
drawMap('mapMld', 'b) Mixed Layer Depth',
  [...mldLayers, line(mld1800, '#ffffff', 3), line(mld3600, '#ffffff', 3), ...sections(), frame()], false);

const sciBandColors = ['#960f2e', '#a5122c', '#bb1727', '#d02120', '#df311e', '#e4431f', '#e5512a', '#e9683f'];
const sciLayers = [area(boxOf(0, 40, 0, 60), '#8b0d2e', null)];
sciFronts.forEach((c, i) => sciLayers.push(area(closeSouth(c), sciBandColors[i], 'rgba(255,190,190,0.45)')));
sciSpots.forEach(c => sciLayers.push(area(c, '#8b0d2e', 'rgba(255,190,190,0.45)')));
sciLayers.push(area([...sci1, [39.8, 0], [0, 0], [0, 26]], '#ec7055', 'rgba(255,255,255,0.01)'));
['#ee7d66', '#ea9082', '#e99c90', '#ea8f7c'].forEach((c, i) => sciLayers.push(area(sciPatches[i], c)));
sciHatch.forEach(h => sciLayers.push(line(h, '#ffffff', 2)));
sciLayers.push(line(sci1, '#ffffff', 4));
sciLayers.push(area(sciRidge, '#ffffff', null));
sciLayers.push(area(sciPink, '#f0c8c0', null), area(sciEmber, '#e8502a', null));
sciTeal.forEach(c => sciLayers.push(area(c, '#8ec5d2', null)));
sciLayers.push(area(sciBlue, '#2e3192', 'rgba(170,190,220,0.8)'));
sciBlanks.forEach(c => sciLayers.push(area(c, '#ffffff', null)));
drawMap('mapSci', 'c) SCI under the ML',
  [...sciLayers, ...sections(), line(mld1800, '#0a0a0a', 2.6), line(mld3600, '#0a0a0a', 2.6), frame()], false);

// ---- colour bars
const minus = s => s.replace('-', '−');
drawBar('barSsh', 'SSH [m]', sshLevels, sshColors, sshTicks, -0.5, 0.5, { fills: [], marks: [] }, 35.4, 26.8,
  v => minus(v.toFixed(2)));
drawBar('barMld', 'Depth [m]', mldLevels, mldColors, mldTicks, 0, 3805,
  { fills: [area([[3600, 0], [3805, 0.5], [3600, 1]], mldColors[18], null)],
    marks: mldBarContours.map(v => line([[v, 0], [v, 1]], '#ffffff', 3)) }, 35, 10, v => String(v));
drawBar('barSci', 'SCI', sciLevels, sciColors, sciTicks, -2.217, 2.217,
  { fills: [area([[-2, 0], [-2.217, 0.5], [-2, 1]], sciColors[0], null), area([[2, 0], [2.217, 0.5], [2, 1]], sciColors[39], null)],
    marks: [...sciBarContours.map(v => line([[v, 0], [v, 1]], '#ffffff', 5)),
      ...sciBarHatch.map(h => line(h, '#ffffff', 1.6))] }, 35, 9, v => minus(v.toFixed(1)));
</script>
</body>
</html>
